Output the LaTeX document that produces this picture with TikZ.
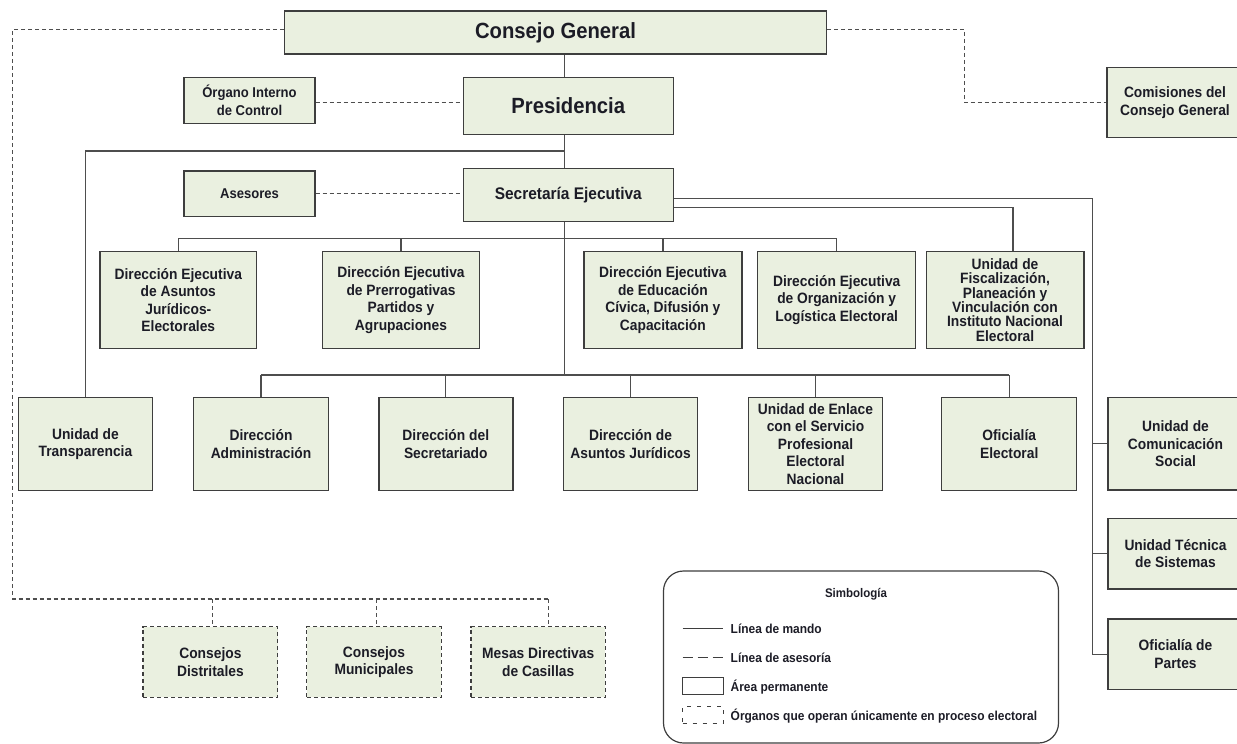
\documentclass[tikz,border=0pt]{standalone}
\usepackage{fontspec}
\setmainfont{Liberation Sans}[FakeStretch=0.92]
\usetikzlibrary{calc}
\definecolor{boxfill}{RGB}{234,240,224}
\definecolor{boxline}{RGB}{62,62,62}
\definecolor{connc}{RGB}{78,78,78}
\definecolor{txt}{RGB}{28,28,38}
\begin{document}
\begin{tikzpicture}[x=1pt,y=-1pt,
  box/.style={draw=boxline, line width=1.4pt, fill=boxfill, inner sep=1pt, align=center, text=txt,
    font=\bfseries\fontsize{15}{17.6}\selectfont},
  bigbox/.style={box, font=\bfseries\fontsize{22}{26}\selectfont},
  smallbox/.style={box, font=\bfseries\fontsize{14.2}{17.7}\selectfont},
  tightbox/.style={box, font=\bfseries\fontsize{15}{14.4}\selectfont},
  tempbox/.style={box, dash pattern=on 4pt off 3pt},
  mando/.style={draw=connc, line width=1.3pt},
  asesoria/.style={draw=connc, line width=1.1pt, dash pattern=on 4pt off 3pt},
  legendbox/.style={draw=boxline, line width=1.2pt, rounded corners=20pt},
  legtext/.style={anchor=west, inner sep=0pt, text=txt, font=\bfseries\fontsize{13}{15}\selectfont},
  legsym/.style={draw=boxline, line width=1pt, minimum width=40.6pt, minimum height=17pt, inner sep=0pt},
]
\useasboundingbox (0,0) rectangle (1237,744);

% ---- top levels
\node[bigbox, minimum width=541.6pt, minimum height=43pt] (cg) at (555.5,32.5) {Consejo General};
\node[bigbox, minimum width=210pt, minimum height=56.6pt] (pres) at (568.3,106) {Presidencia};
\node[smallbox, minimum width=131pt, minimum height=45.6pt] (oic) at (249.5,100.5) {Órgano Interno\\de Control};
\node[smallbox, minimum width=131pt, minimum height=45.7pt] (ase) at (249.5,193.8) {Asesores};
\node[box, font=\bfseries\fontsize{16.8}{19}\selectfont, minimum width=210pt, minimum height=53.4pt] (sec) at (568.3,195) {Secretaría Ejecutiva};
\node[box, font=\bfseries\fontsize{15}{18.3}\selectfont, minimum width=136pt, minimum height=70pt] (com) at (1175,102.7) {Comisiones del\\Consejo General};

% ---- direcciones ejecutivas
\node[box, minimum width=156.6pt, minimum height=96.6pt] (de1) at (178.3,300) {Dirección Ejecutiva\\de Asuntos\\Jurídicos-\\Electorales};
\node[box, minimum width=157.3pt, minimum height=96.6pt] (de2) at (401,300) {Dirección Ejecutiva\\de Prerrogativas\\Partidos y\\Agrupaciones};
\node[box, minimum width=157.8pt, minimum height=96.6pt] (de3) at (662.9,300) {Dirección Ejecutiva\\de Educación\\Cívica, Difusión y\\Capacitación};
\node[box, minimum width=158.1pt, minimum height=96.6pt] (de4) at (836.7,300) {Dirección Ejecutiva\\de Organización y\\Logística Electoral};
\node[tightbox, minimum width=157.6pt, minimum height=96.6pt] (uf) at (1005,300) {Unidad de\\Fiscalización,\\Planeación y\\Vinculación con\\Instituto Nacional\\Electoral};

% ---- second row
\node[box, minimum width=133.6pt, minimum height=93.4pt] (tra) at (85.4,444) {Unidad de\\Transparencia};
\node[box, minimum width=134.5pt, minimum height=93.4pt] (adm) at (261,444) {Dirección\\Administración};
\node[box, minimum width=134pt, minimum height=93.4pt] (sria) at (445.8,444) {Dirección del\\Secretariado};
\node[box, minimum width=134.3pt, minimum height=93.4pt] (daj) at (630.6,444) {Dirección de\\Asuntos Jurídicos};
\node[box, font=\bfseries\fontsize{15}{17.5}\selectfont, minimum width=134.4pt, minimum height=93.4pt] (enl) at (815.5,444) {Unidad de Enlace\\con el Servicio\\Profesional\\Electoral\\Nacional};
\node[box, minimum width=135pt, minimum height=93.4pt] (ofe) at (1009.2,444) {Oficialía\\Electoral};

% ---- right column
\node[box, minimum width=135pt, minimum height=92.7pt] (ucs) at (1175.5,443.7) {Unidad de\\Comunicación\\Social};
\node[box, minimum width=135pt, minimum height=70.7pt] (uts) at (1175.5,553.7) {Unidad Técnica\\de Sistemas};
\node[box, minimum width=135pt, minimum height=70.3pt] (ofp) at (1175.5,654.2) {Oficialía de\\Partes};

% ---- temporary bodies
\node[tempbox, minimum width=134.5pt, minimum height=70.6pt] (cd) at (210.4,662) {Consejos\\Distritales};
\node[tempbox, minimum width=134.5pt, minimum height=70.6pt] (cm) at (374,662) {Consejos\\Municipales};
\node[tempbox, minimum width=134.5pt, minimum height=70.6pt] (mdc) at (538.2,662) {Mesas Directivas\\de Casillas};

% ---- helper coordinates
\coordinate (sp) at (564.5,0);
\coordinate (j1) at (564.5,151);
\coordinate (j3) at (564.5,238.3);
\coordinate (j2) at (564.5,375);
\coordinate (rx) at (1092.5,0);
\coordinate (ux) at (1013,0);
\coordinate (dl) at (12.7,0);
\coordinate (dr) at (964.4,0);
\coordinate (d1) at (212.3,599);
\coordinate (d2) at (376.4,599);
\coordinate (d3) at (548.8,599);

% ---- lines of command
\draw[mando] (cg.south -| sp) -- (pres.north -| sp);
\draw[mando] (pres.south -| sp) -- (sec.north -| sp);
\draw[mando] (j1) -| (tra.north);
\draw[mando] (sec.south -| sp) -- (j2);
\draw[mando] (de1.north |- j3) -- (de4.north |- j3);
\foreach \n in {de1,de2,de3,de4} \draw[mando] (\n.north |- j3) -- (\n.north);
\draw[mando] (adm.north |- j2) -- (ofe.north |- j2);
\foreach \n in {adm,sria,daj,enl,ofe} \draw[mando] (\n.north |- j2) -- (\n.north);
\draw[mando] ([yshift=-3.3pt]sec.east) -| (rx |- ofp.west) -- (ofp.west);
\draw[mando] (rx |- ucs.west) -- (ucs.west);
\draw[mando] (rx |- uts.west) -- (uts.west);
\draw[mando] ([yshift=-12.3pt]sec.east) -| (ux |- uf.north);

% ---- advisory lines
\draw[asesoria] ([yshift=3.2pt]cg.east) -| (dr |- com.west) -- (com.west);
\draw[asesoria] ([yshift=-1.8pt]oic.east) -- ([yshift=-1.8pt]oic.east -| pres.west);
\draw[asesoria] (ase.east) -- (ase.east -| sec.west);
\draw[asesoria] ([yshift=3.2pt]cg.west) -| (dl |- d1) -- (d3);
\draw[asesoria] (d1) -- (d1 |- cd.north);
\draw[asesoria] (d2) -- (d2 |- cm.north);
\draw[asesoria] (d3) -- (d3 |- mdc.north);

% ---- legend
\node[legendbox, minimum width=395pt, minimum height=172pt] (leg) at (861,657) {};
\node[text=txt, font=\bfseries\fontsize{12.5}{14}\selectfont, inner sep=0pt] (sym) at (856,594) {Simbología};
\coordinate (la1) at (682.7,628.3);
\coordinate (lb1) at (723.3,628.3);
\coordinate (la2) at (682.7,657.7);
\coordinate (lb2) at (723.3,657.7);
\draw[draw=boxline, line width=1pt] (la1) -- (lb1);
\draw[draw=boxline, line width=1pt, dash pattern=on 10pt off 5pt] (la2) -- (lb2);
\node[legsym] (s3) at (703,685.8) {};
\node[legsym, dash pattern=on 4pt off 6pt] (s4) at (703,714.7) {};
\node[legtext] (t1) at (730.5,628.3) {Línea de mando};
\node[legtext] (t2) at (730.5,657.7) {Línea de asesoría};
\node[legtext] (t3) at (730.5,686.7) {Área permanente};
\node[legtext] (t4) at (730.5,715.7) {Órganos que operan únicamente en proceso electoral};
\end{tikzpicture}
\end{document}
